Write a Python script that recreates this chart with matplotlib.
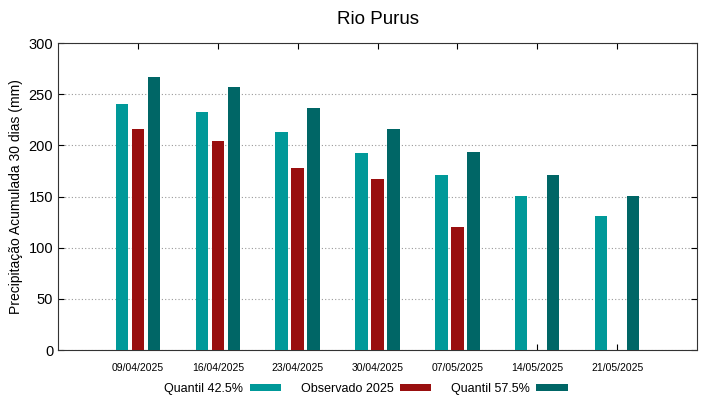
import numpy as np
import matplotlib.pyplot as plt

plt.rcParams['font.family'] = ['Liberation Sans', 'DejaVu Sans']

datas = ['09/04/2025', '16/04/2025', '23/04/2025', '30/04/2025',
         '07/05/2025', '14/05/2025', '21/05/2025']
q425 = [240, 233, 213, 193, 171.5, 150.5, 131]
obs = [216, 204, 178, 167, 120.5, np.nan, np.nan]
q575 = [267, 257, 237, 216, 193.5, 171.5, 150.5]

x = np.arange(1, len(datas) + 1)
w = 0.155

fig = plt.figure(figsize=(7.19, 3.99), dpi=100)
ax = fig.add_axes([0.0807, 0.1228, 0.8887, 0.7692])

ax.bar(x - 0.2, q425, w, color='#009999', label='Quantil 42.5%', zorder=3)
ax.bar(x, obs, w, color='#990f0f', label='Observado 2025', zorder=3)
ax.bar(x + 0.2, q575, w, color='#006666', label='Quantil 57.5%', zorder=3)

ax.set_xlim(0, 8)
ax.set_ylim(0, 300)
ax.set_yticks(range(0, 301, 50))
ax.set_xticks(x)
ax.set_xticklabels(datas, fontsize=7.5)
ax.tick_params(axis='y', labelsize=10.5, direction='in', right=True, length=4)
ax.tick_params(axis='x', direction='in', top=True, length=4, pad=9)
ax.yaxis.grid(True, linestyle=(0, (1, 2)), color='#999999', linewidth=0.8, zorder=0)
ax.set_axisbelow(True)
for s in ax.spines.values():
    s.set_color('#333333')

ax.set_ylabel('Precipitação Acumulada 30 dias (mm)', fontsize=10)
ax.set_title('Rio Purus', fontsize=13.5, pad=14)

ax.legend(ncol=3, loc='upper center', bbox_to_anchor=(0.482, -0.07), frameon=False,
          markerfirst=False, fontsize=9, handlelength=2.5, handleheight=0.5,
          columnspacing=1.6, handletextpad=0.5)

fig.savefig('out.png', dpi=100)
